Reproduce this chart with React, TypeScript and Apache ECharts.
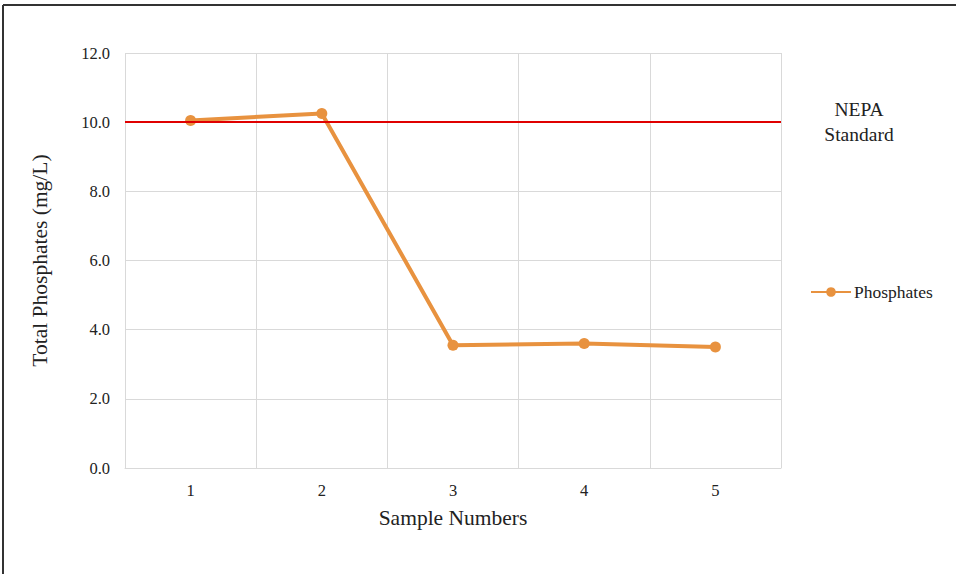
import React, { useEffect, useRef } from "react";
import * as echarts from "echarts";

// Sample numbers along the x axis
const samples = ["1", "2", "3", "4", "5"];
// Total phosphates measured per sample (mg/L)
const phosphates = [10.05, 10.25, 3.55, 3.6, 3.5];
// Regulatory limit
const nepaStandard = 10.0;

const FONT = "'Liberation Serif', 'Times New Roman', serif";

export default function App() {
  const ref = useRef<HTMLDivElement>(null);

  useEffect(() => {
    document.body.style.margin = "0";
    if (!ref.current) return;
    const chart = echarts.init(ref.current, undefined, { renderer: "svg" });
    chart.setOption({
      animation: false,
      backgroundColor: "#ffffff",
      textStyle: { fontFamily: FONT },
      grid: { left: 125, right: 175, top: 53, bottom: 106 },
      legend: {
        data: [{ name: "Phosphates" }],
        left: 810,
        top: 283,
        padding: 0,
        itemWidth: 40,
        itemHeight: 12,
        itemGap: 4,
        textStyle: { fontFamily: FONT, fontSize: 17.5, color: "#222", padding: [0, 0, 0, -2] },
      },
      xAxis: {
        type: "category",
        data: samples,
        boundaryGap: true,
        name: "Sample Numbers",
        nameLocation: "middle",
        nameGap: 39,
        nameTextStyle: { fontFamily: FONT, fontSize: 21.5, color: "#222" },
        axisLine: { show: true, lineStyle: { color: "#d9d9d9", width: 1 } },
        axisTick: { show: false },
        axisLabel: { fontFamily: FONT, fontSize: 16.5, color: "#222", margin: 14 },
        splitLine: { show: true, lineStyle: { color: "#d9d9d9", width: 1 } },
      },
      yAxis: {
        type: "value",
        min: 0,
        max: 12,
        interval: 2,
        name: "Total Phosphates (mg/L)",
        nameLocation: "middle",
        nameGap: 74,
        nameTextStyle: { fontFamily: FONT, fontSize: 21.5, color: "#222" },
        axisLine: { show: false },
        axisTick: { show: false },
        axisLabel: {
          fontFamily: FONT,
          fontSize: 16.5,
          color: "#222",
          margin: 15,
          formatter: (v: number) => v.toFixed(1),
        },
        splitLine: { show: true, lineStyle: { color: "#d9d9d9", width: 1 } },
      },
      series: [
        {
          name: "Phosphates",
          type: "line",
          data: phosphates,
          symbol: "circle",
          symbolSize: 11,
          color: "#E8923F",
          lineStyle: { color: "#E8923F", width: 4 },
          itemStyle: { color: "#E8923F" },
          markLine: {
            silent: true,
            symbol: ["none", "none"],
            lineStyle: { color: "#e00000", width: 2, type: "solid" },
            label: {
              show: true,
              position: "end",
              distance: 78,
              align: "center",
              formatter: "NEPA\nStandard",
              fontFamily: FONT,
              fontSize: 19.5,
              lineHeight: 25,
              color: "#222",
              padding: [2, 0, 0, 0],
            },
            data: [{ yAxis: nepaStandard }],
          },
        },
      ],
      graphic: [
        {
          type: "line",
          shape: { x1: 3, y1: 5, x2: 956, y2: 5 },
          style: { stroke: "#333", lineWidth: 2 },
        },
        {
          type: "line",
          shape: { x1: 3, y1: 5, x2: 3, y2: 574 },
          style: { stroke: "#333", lineWidth: 2 },
        },
      ],
    });
    return () => chart.dispose();
  }, []);

  return <div ref={ref} style={{ width: 956, height: 574 }} />;
}
